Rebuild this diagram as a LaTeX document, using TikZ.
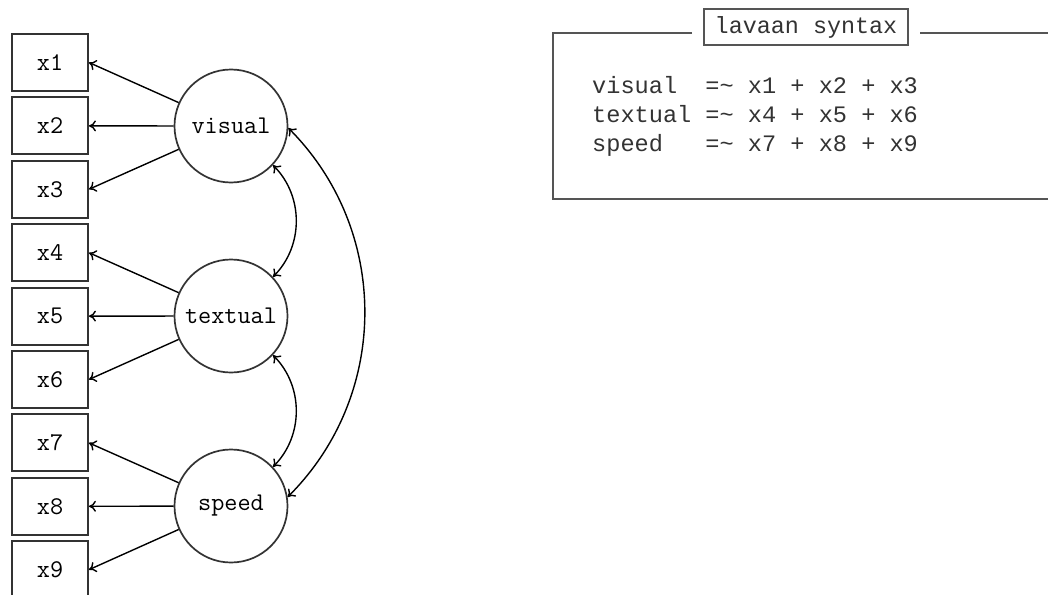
\documentclass[tikz,border=0pt]{standalone}
\usepackage{fontspec}
\usetikzlibrary{arrows.meta}
\newfontfamily\lavfont{Liberation Mono}
\definecolor{edgegray}{HTML}{333333}
\definecolor{framegray}{HTML}{555555}
\begin{document}
\begin{tikzpicture}[x=1pt,y=-1pt,
  obsbox/.style={draw=edgegray, line width=1.9pt, minimum width=76pt, minimum height=57pt, inner sep=0pt,
    font=\fontsize{25.5}{30}\selectfont\ttfamily},
  latent/.style={circle, draw=edgegray, line width=1.7pt, minimum size=113pt, inner sep=0pt,
    font=\fontsize{25.5}{30}\selectfont\ttfamily},
  load/.style={line width=1.4pt, -{To[length=7pt,width=11pt]}},
  cov/.style={line width=1.4pt, {To[length=7pt,width=11pt]}-{To[length=7pt,width=11pt]}},
  lavtext/.style={anchor=base west, inner sep=0pt, font=\fontsize{23.6}{28}\selectfont\lavfont, text=black!80},
  titlebox/.style={draw=framegray, line width=1.1pt, minimum width=204pt, minimum height=36pt, inner sep=0pt,
    font=\fontsize{23.4}{28}\selectfont\lavfont, text=black!80},
  frameline/.style={draw=framegray, line width=1.3pt}
]
\clip (0,0) rectangle (1048,594);
\fill[white] (0,0) rectangle (1048,594);

% observed variables
\foreach \i in {1,...,9}{
  \node[obsbox] (x\i) at (50, {62.5+63.4*(\i-1)}) {x\i};
}

% latent variables
\node[latent] (visual) at (231,126) {visual};
\node[latent] (textual) at (231,316) {textual};
\node[latent] (speed) at (231,506) {speed};

% loadings
\foreach \i in {1,2,3}{ \draw[load] (visual) -- (x\i.east); }
\foreach \i in {4,5,6}{ \draw[load] (textual) -- (x\i.east); }
\foreach \i in {7,8,9}{ \draw[load] (speed) -- (x\i.east); }

% covariances
\draw[cov] (visual.-43) to[bend left=45] (textual.43);
\draw[cov] (textual.-43) to[bend left=45] (speed.43);
\draw[cov] (visual.-2) to[bend left=45] (speed.9);

% lavaan syntax panel
\node[titlebox] (title) at (806,27) {lavaan syntax};
\coordinate (tl) at (553,33);
\coordinate (bl) at (553,199);
\coordinate (br) at (1059,199);
\coordinate (tr) at (1059,33);
\coordinate (gapl) at (692,33);
\coordinate (gapr) at (920,33);
\draw[frameline] (gapl) -- (tl) -- (bl) -- (br) -- (tr) -- (gapr);

\node[lavtext] (l1) at (592,93) {visual\ \ =\textasciitilde{} x1 + x2 + x3};
\node[lavtext] (l2) at (592,122) {textual =\textasciitilde{} x4 + x5 + x6};
\node[lavtext] (l3) at (592,151) {speed\ \ \ =\textasciitilde{} x7 + x8 + x9};
\end{tikzpicture}
\end{document}
